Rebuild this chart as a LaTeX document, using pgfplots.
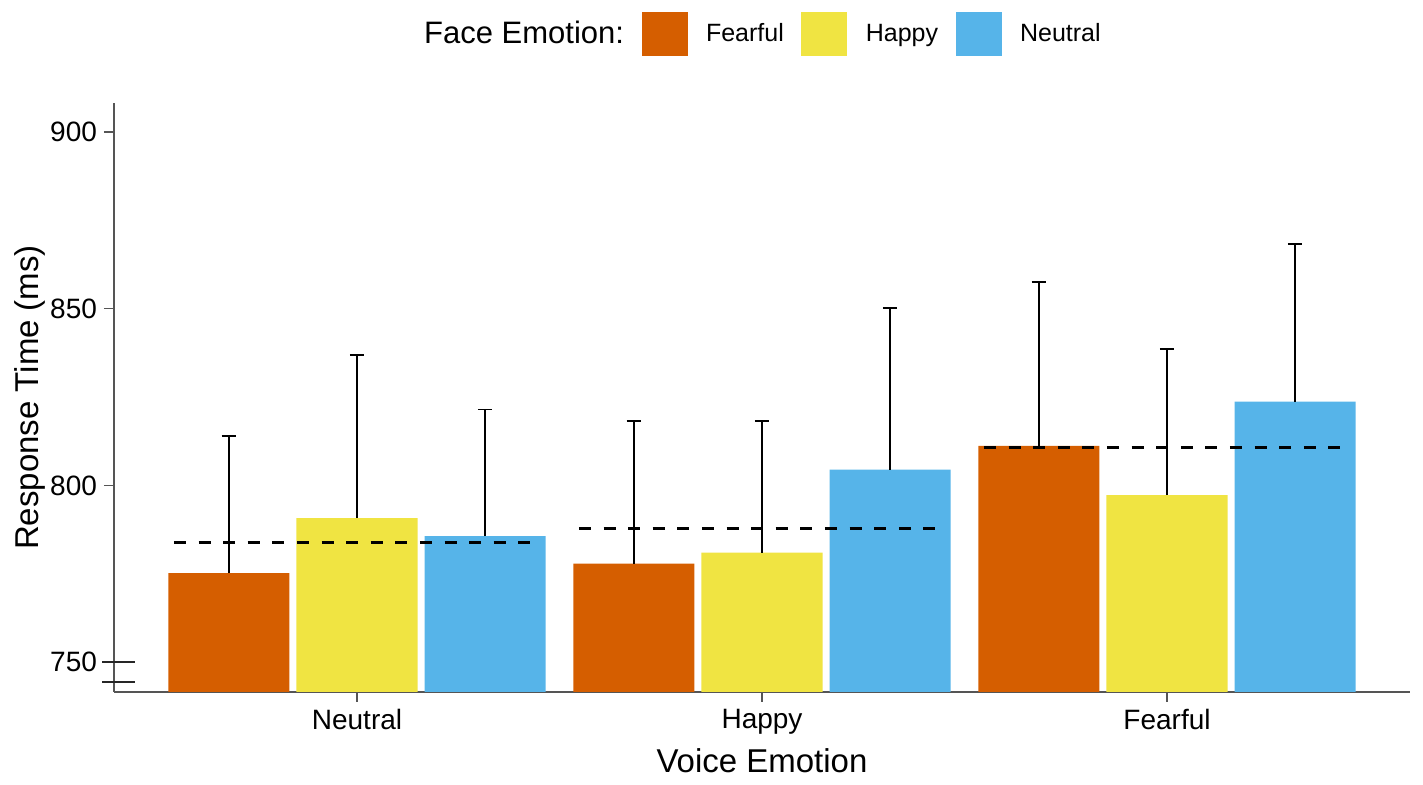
\documentclass[border=0pt]{standalone}
\usepackage{fontspec}
\setmainfont{Liberation Sans}
\usepackage{pgfplots}
\pgfplotsset{compat=1.18}
\usepackage{pgfplotstable}
\definecolor{cFear}{HTML}{D55E00}
\definecolor{cHappy}{HTML}{F0E442}
\definecolor{cNeut}{HTML}{56B4E9}
\definecolor{axgray}{HTML}{555555}

% x = voice-emotion group (0 Neutral, 1 Happy, 2 Fearful) + position of the face-emotion bar
\pgfplotstableread{
x y err
-0.3165 775.2 38.8
0.6835 777.9 40.4
1.6835 811.2 46.4
}\fearfulface
\pgfplotstableread{
x y err
0 790.8 46.1
1 781.0 37.3
2 797.3 41.3
}\happyface
\pgfplotstableread{
x y err
0.3165 785.7 35.8
1.3165 804.5 45.6
2.3165 823.7 44.6
}\neutralface
\pgfplotstableread{
x y
-0.452 783.9
0.433 783.9
0.5 nan
0.548 787.8
1.433 787.8
1.5 nan
1.548 810.7
2.433 810.7
}\means

\pgfplotsset{
  sqFear/.style={legend image code/.code={\fill[cFear] (0pt,-11pt) rectangle (23pt,11pt);}},
  sqHappy/.style={legend image code/.code={\fill[cHappy] (0pt,-11pt) rectangle (23pt,11pt);}},
  sqNeut/.style={legend image code/.code={\fill[cNeut] (0pt,-11pt) rectangle (23pt,11pt);}},
  myerr/.style={error bars/.cd, y dir=plus, y explicit, error mark=|,
     error bar style={draw=black, line width=0.95pt},
     error mark options={draw=black, line width=0.95pt, mark size=3.6pt}},
}

\begin{document}
\begin{tikzpicture}
\path[use as bounding box] (0,0) rectangle (711.5pt,392.5pt);
\begin{axis}[
  at={(57pt,46.5pt)}, anchor=south west,
  scale only axis, width=648pt, height=294.5pt,
  xmin=-0.6, xmax=2.6, ymin=741.6, ymax=908.2,
  axis x line*=bottom, axis y line*=left,
  axis line style={draw=axgray, line width=0.7pt},
  xtick={0,1,2}, xticklabels={Neutral,Happy,Fearful},
  ytick={750,800,850,900},
  tick style={draw=axgray, line width=0.7pt},
  tick align=outside, major tick length=5pt,
  /pgf/number format/assume math mode=true,
  ticklabel style={font=\fontsize{14}{16}\selectfont, text=black},
  xlabel={Voice Emotion}, ylabel={Response Time (ms)},
  label style={font=\fontsize{16.5}{19}\selectfont},
  xlabel style={at={(axis description cs:0.5,-0.1375)}, anchor=base},
  ylabel style={at={(axis description cs:-0.0648,0.5)}, anchor=center},
  unbounded coords=jump,
  legend style={at={(axis description cs:0.4932,1.117)}, anchor=center,
    draw=none, fill=none, legend columns=4,
    font=\fontsize{12.5}{15}\selectfont,
    nodes={inner sep=0pt},
    /tikz/every odd column/.append style={column sep=9.25pt},
    /tikz/every even column/.append style={column sep=8.75pt}},
]
\addlegendimage{empty legend}
\addlegendentry{\fontsize{15.5}{18}\selectfont Face Emotion:}
\addplot[ybar, bar width=0.299, bar shift=0, fill=cFear, draw=none, sqFear, myerr]
  table[x=x, y=y, y error=err]{\fearfulface};
\addlegendentry{Fearful}
\addplot[ybar, bar width=0.299, bar shift=0, fill=cHappy, draw=none, sqHappy, myerr]
  table[x=x, y=y, y error=err]{\happyface};
\addlegendentry{Happy}
\addplot[ybar, bar width=0.299, bar shift=0, fill=cNeut, draw=none, sqNeut, myerr]
  table[x=x, y=y, y error=err]{\neutralface};
\addlegendentry{Neutral}
\addplot[black, line width=1.3pt, dash pattern=on 6pt off 6.3pt, forget plot]
  table[x=x, y=y]{\means};
\coordinate (b1) at (axis cs:-0.6,750);
\coordinate (b2) at (axis cs:-0.6,744.3);
\end{axis}
\draw[black!85, line width=1pt] (b1) ++(-6pt,0) -- ++(16.5pt,0);
\draw[black!85, line width=1pt] (b2) ++(-6pt,0) -- ++(16.5pt,0);
\end{tikzpicture}
\end{document}
